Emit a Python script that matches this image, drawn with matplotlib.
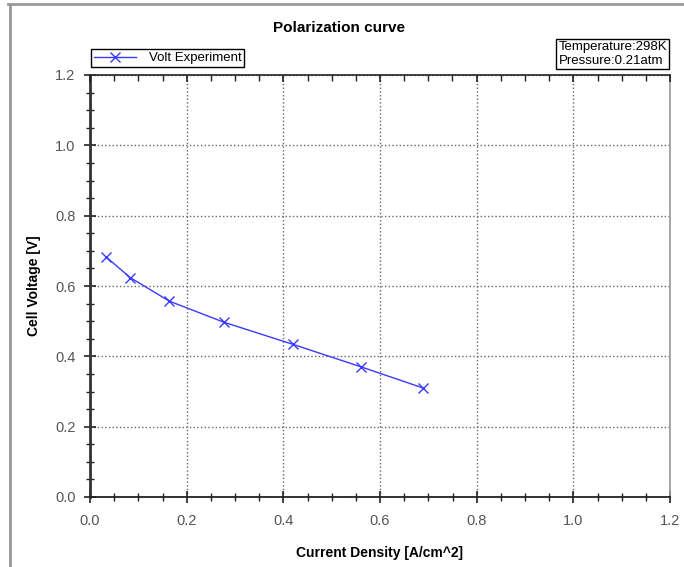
import matplotlib.pyplot as plt
import numpy as np
from matplotlib.lines import Line2D
from matplotlib.ticker import MultipleLocator

plt.rcParams["font.family"] = ["Liberation Sans", "DejaVu Sans"]

# data
current = [0.033, 0.083, 0.164, 0.277, 0.420, 0.561, 0.689]
voltage = [0.683, 0.624, 0.557, 0.497, 0.434, 0.370, 0.310]
ticks = [0.0, 0.2, 0.4, 0.6, 0.8, 1.0, 1.2]
tick_labels = ["0.0", "0.2", "0.4", "0.6", "0.8", "1.0", "1.2"]

fig = plt.figure(figsize=(6.84, 5.67), dpi=100)
ax = fig.add_axes([90/684, 1 - 497/567, 580/684, 422/567])

ax.plot(current, voltage, color="#3a3aff", lw=1.0, marker="x", ms=7.5,
        mew=1.0, label="Volt Experiment")

ax.set_xlim(0, 1.2)
ax.set_ylim(0, 1.2)
ax.set_xticks(ticks)
ax.set_xticklabels(tick_labels)
ax.set_yticks(ticks)
ax.set_yticklabels(tick_labels)
ax.xaxis.set_minor_locator(MultipleLocator(0.05))
ax.yaxis.set_minor_locator(MultipleLocator(0.05))
ax.grid(True, which="major", ls=":", color="#666666", lw=1.0)

ax.tick_params(axis="both", which="both", direction="inout", colors="#222222",
               labelcolor="#555555", labelsize=10.5, pad=6)
ax.tick_params(axis="x", which="both", pad=8)
ax.tick_params(axis="both", which="major", length=9, width=1.2)
ax.tick_params(axis="both", which="minor", length=6, width=1.0)

# top ticks point inward only
top = ax.twiny()
top.set_xlim(0, 1.2)
top.set_xticks(ticks)
top.xaxis.set_minor_locator(MultipleLocator(0.05))
top.tick_params(axis="x", which="both", direction="in", colors="#222222",
                labeltop=False)
top.tick_params(axis="x", which="major", length=5, width=1.2)
top.tick_params(axis="x", which="minor", length=4, width=1.0)
for s in top.spines.values():
    s.set_visible(False)

ax.spines["left"].set_linewidth(2.0)
ax.spines["left"].set_color("#333333")
ax.spines["bottom"].set_linewidth(1.3)
ax.spines["bottom"].set_color("#222222")
ax.spines["top"].set_linewidth(1.3)
ax.spines["top"].set_color("#333333")
ax.spines["right"].set_linewidth(1.2)
ax.spines["right"].set_color("#999999")

ax.set_xlabel("Current Density [A/cm^2]", fontweight="bold", fontsize=10, labelpad=13)
ax.set_ylabel("Cell Voltage [V]", fontweight="bold", fontsize=10, labelpad=10)

fig.text(0.495, 1 - 28/567, "Polarization curve", ha="center", va="center",
         fontweight="bold", fontsize=11)

leg = ax.legend(loc="lower left", bbox_to_anchor=(91/684, 1 - 67/567),
                bbox_transform=fig.transFigure,
                borderaxespad=0, fancybox=False, edgecolor="black",
                fontsize=9.5, handlelength=3.2, borderpad=0.2,
                handletextpad=1.0, framealpha=1)
leg.get_frame().set_linewidth(1.0)

fig.text(667/684, 1 - 41/567, "Temperature:298K\nPressure:0.21atm",
         ha="right", va="top", multialignment="left", fontsize=9.5,
         linespacing=1.25,
         bbox=dict(boxstyle="square,pad=0.15", fc="white", ec="black", lw=1.0))

# outer frame lines
fig.add_artist(Line2D([8/684, 1], [1 - 4/567, 1 - 4/567], color="#999999", lw=2.0))
fig.add_artist(Line2D([10/684, 10/684], [0, 1 - 4/567], color="#999999", lw=2.0))

fig.savefig("out.png", dpi=100, facecolor="w")
